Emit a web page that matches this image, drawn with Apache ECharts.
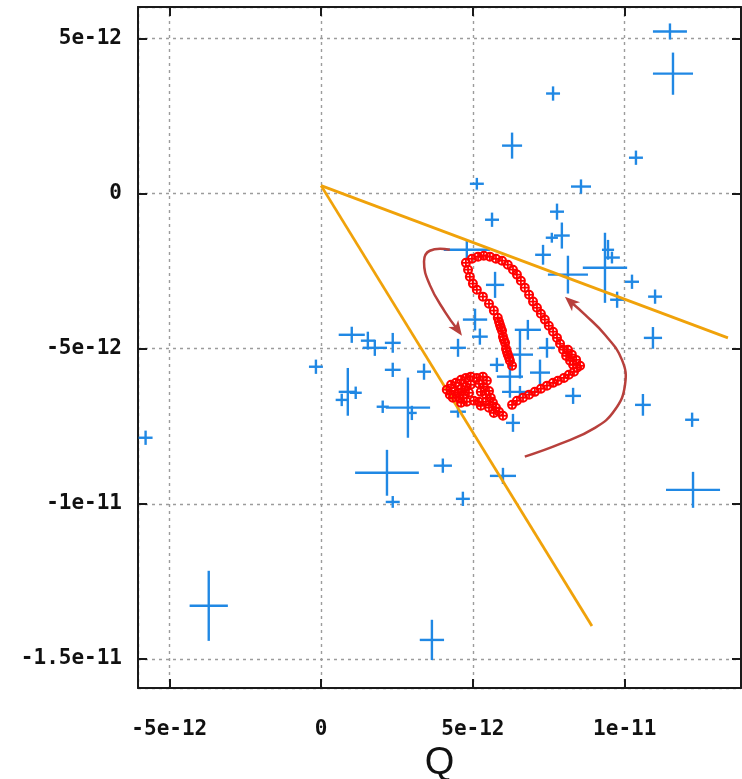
<!DOCTYPE html>
<html><head><meta charset="utf-8">
<script src="https://cdn.jsdelivr.net/npm/echarts@6/dist/echarts.min.js"></script>
<style>html,body{margin:0;padding:0;background:#fff}#c{width:742px;height:779px}</style>
</head><body><div id="c"></div>
<script>
// All values in units of 1e-12
const xTickValues = [-5, 0, 5, 10];
const xTickLabels = ['-5e-12', '0', '5e-12', '1e-11'];
const yTickValues = [-15, -10, -5, 0, 5];
const yTickLabels = ['-1.5e-11', '-1e-11', '-5e-12', '0', '5e-12'];
const xRange = [-6.03, 13.83];
const yRange = [-15.94, 6.02];

// blue measurements: [x, y, xError, yError]
const bluePoints = [
  [11.49, 5.23, 0.56, 0.26], [11.59, 3.87, 0.66, 0.68], [7.64, 3.23, 0.23, 0.23],
  [6.29, 1.55, 0.33, 0.42], [10.37, 1.16, 0.23, 0.23], [5.13, 0.32, 0.23, 0.19],
  [8.56, 0.23, 0.33, 0.23], [5.63, -0.84, 0.23, 0.23], [7.77, -0.58, 0.23, 0.26],
  [7.93, -1.35, 0.26, 0.42], [7.60, -1.42, 0.20, 0.16], [7.31, -1.97, 0.26, 0.32],
  [8.13, -2.61, 0.66, 0.61], [9.35, -2.39, 0.73, 1.13], [9.45, -1.81, 0.20, 0.32],
  [9.58, -2.06, 0.26, 0.19], [9.75, -3.42, 0.23, 0.26], [10.24, -2.84, 0.23, 0.23],
  [11.00, -3.32, 0.23, 0.23], [10.93, -4.65, 0.30, 0.35], [10.60, -6.81, 0.26, 0.35],
  [12.22, -7.29, 0.23, 0.23], [12.25, -9.55, 0.89, 0.58], [4.80, -1.81, 0.76, 0.32],
  [5.73, -2.94, 0.30, 0.42], [5.07, -4.06, 0.40, 0.35], [4.51, -4.97, 0.26, 0.29],
  [6.81, -4.39, 0.43, 0.32], [7.44, -4.97, 0.26, 0.32], [6.22, -5.90, 0.43, 0.68],
  [6.55, -5.19, 0.43, 0.77], [7.21, -5.77, 0.33, 0.42], [8.30, -6.52, 0.26, 0.26],
  [6.32, -7.39, 0.23, 0.29], [5.99, -9.10, 0.43, 0.26], [6.55, -6.39, 0.59, 0.19],
  [-5.78, -7.87, 0.23, 0.23], [-0.17, -5.58, 0.23, 0.23], [1.01, -4.55, 0.43, 0.26],
  [1.54, -4.74, 0.23, 0.29], [1.77, -4.97, 0.40, 0.26], [2.36, -4.81, 0.26, 0.32],
  [2.36, -5.68, 0.26, 0.23], [3.39, -5.74, 0.23, 0.26], [0.88, -6.39, 0.30, 0.77],
  [1.14, -6.42, 0.20, 0.20], [0.68, -6.65, 0.20, 0.20], [2.03, -6.87, 0.20, 0.20],
  [2.86, -6.90, 0.73, 0.97], [2.99, -7.07, 0.16, 0.23], [2.17, -9.00, 1.05, 0.74],
  [2.36, -9.94, 0.23, 0.19], [4.01, -8.77, 0.30, 0.23], [4.67, -9.84, 0.23, 0.23],
  [4.51, -7.03, 0.26, 0.19], [-3.70, -13.29, 0.63, 1.13], [3.65, -14.39, 0.40, 0.65],
  [5.23, -4.61, 0.26, 0.26], [5.79, -5.52, 0.23, 0.23]
];

// red trajectory points: [x, y]
const redPoints = [
  [4.77,-2.23],[4.84,-2.45],[4.90,-2.68],[5.00,-2.90],[4.97,-2.10],[5.17,-2.03],[5.36,-2.00],
  [5.56,-2.03],[5.76,-2.10],[5.96,-2.16],[6.15,-2.29],[6.32,-2.45],
  [6.45,-2.61],[6.58,-2.81],[6.71,-3.03],[6.85,-3.26],[6.98,-3.48],[7.11,-3.68],[7.24,-3.87],
  [7.37,-4.06],[7.50,-4.26],[7.64,-4.45],[7.77,-4.65],[7.87,-4.84],[7.97,-5.03],[8.07,-5.23],
  [8.20,-5.39],[8.30,-5.52],[8.43,-5.61],[8.53,-5.55],[8.40,-5.36],[8.26,-5.19],[8.13,-5.03],
  [8.33,-5.74],[8.16,-5.84],[8.00,-5.94],[7.80,-6.03],[7.64,-6.10],[7.44,-6.19],[7.24,-6.29],
  [7.04,-6.39],[6.85,-6.48],[6.65,-6.58],[6.45,-6.68],[6.29,-6.81],
  [5.13,-3.10],[5.33,-3.32],[5.53,-3.55],[5.69,-3.77],[5.82,-4.00],[5.86,-4.13],[5.89,-4.23],
  [5.92,-4.32],[5.96,-4.42],[5.99,-4.61],[6.02,-4.71],[6.06,-4.81],[6.09,-5.00],[6.12,-5.10],
  [6.15,-5.19],[6.19,-5.29],[6.22,-5.39],[6.29,-5.55],
  [4.14,-6.32],[4.28,-6.16],[4.44,-6.10],[4.61,-6.00],[4.77,-5.94],[4.93,-5.90],[5.13,-5.94],
  [5.33,-5.90],[5.46,-6.03],[4.24,-6.48],[4.41,-6.36],[4.61,-6.29],[4.77,-6.23],[4.93,-6.16],
  [5.20,-6.13],[5.36,-6.23],[5.53,-6.36],[4.34,-6.58],[4.54,-6.58],[4.70,-6.48],[4.87,-6.42],
  [5.26,-6.39],[5.43,-6.48],[5.59,-6.58],[4.61,-6.74],[4.80,-6.71],[5.03,-6.68],[5.20,-6.71],
  [5.43,-6.71],[5.66,-6.74],[5.76,-6.90],[5.53,-6.90],[5.86,-7.03],[5.99,-7.16],[5.69,-7.07],
  [5.26,-6.84],[4.51,-6.42]
];

// orange boundary lines
const orangeLine1 = [[0, 0.26], [13.4, -4.65]];
const orangeLine2 = [[0, 0.26], [8.92, -13.94]];

// curved annotation arrows (path points, last point = arrow tip)
const arrowLeft = [[4.24,-1.81],[3.58,-1.84],[3.39,-2.19],[3.58,-2.94],[4.08,-3.81],[4.64,-4.58]];
const arrowRight = [[6.71,-8.48],[7.87,-8.07],[9.02,-7.55],[9.68,-6.97],[10.01,-6.16],[9.91,-5.36],[9.35,-4.55],[8.69,-3.90],[8.03,-3.32]];

const BLUE = '#2088e4', RED = '#ff0000', ORANGE = '#f0a20a', ARROW = '#b8403c';
const chart = echarts.init(document.getElementById('c'), null, {renderer: 'canvas'});

function fmt(values, labels) {
  return function (v) {
    for (let i = 0; i < values.length; i++) if (Math.abs(values[i] - v) < 1e-6) return labels[i];
    return '';
  };
}

function renderCross(params, api) {
  const x = api.value(0), y = api.value(1), ex = api.value(2), ey = api.value(3);
  const l = api.coord([x - ex, y]), r = api.coord([x + ex, y]);
  const t = api.coord([x, y + ey]), b = api.coord([x, y - ey]);
  const st = {stroke: BLUE, lineWidth: 2.4};
  return {type: 'group', children: [
    {type: 'line', shape: {x1: l[0], y1: l[1], x2: r[0], y2: r[1]}, style: st},
    {type: 'line', shape: {x1: t[0], y1: t[1], x2: b[0], y2: b[1]}, style: st}
  ]};
}

function renderRed(params, api) {
  const p = api.coord([api.value(0), api.value(1)]);
  const r = 4;
  const st = {stroke: RED, lineWidth: 1.8};
  return {type: 'group', children: [
    {type: 'circle', shape: {cx: p[0], cy: p[1], r: r}, style: {stroke: RED, fill: 'rgba(0,0,0,0)', lineWidth: 2}},
    {type: 'line', shape: {x1: p[0] - r, y1: p[1], x2: p[0] + r, y2: p[1]}, style: st},
    {type: 'line', shape: {x1: p[0], y1: p[1] - r, x2: p[0], y2: p[1] + r}, style: st}
  ]};
}

function arrowRenderer(path) {
  return function (params, api) {
    if (params.dataIndex !== 0) return null;
    const pts = path.map(function (d) { return api.coord(d); });
    const n = pts.length;
    const tip = pts[n - 1], prev = pts[n - 2];
    const dx = tip[0] - prev[0], dy = tip[1] - prev[1];
    const len = Math.sqrt(dx * dx + dy * dy);
    const ux = dx / len, uy = dy / len;
    const L = 15, W = 6;
    const bx = tip[0] - ux * L, by = tip[1] - uy * L;
    const linePts = pts.slice(0, n - 1).concat([[tip[0] - ux * 8, tip[1] - uy * 8]]);
    return {type: 'group', children: [
      {type: 'polyline', shape: {points: linePts, smooth: 0.45}, style: {stroke: ARROW, lineWidth: 2.5, fill: null}},
      {type: 'polygon', shape: {points: [tip, [bx - uy * W, by + ux * W], [bx + ux * 4, by + uy * 4], [bx + uy * W, by - ux * W]]}, style: {fill: ARROW}}
    ]};
  };
}

const axisLineStyle = {color: '#1a1a1a', width: 2};
const labelFont = {fontFamily: 'DejaVu Sans Mono', fontWeight: 'bold', fontSize: 21, color: '#111'};

chart.setOption({
  animation: false,
  backgroundColor: '#fff',
  grid: {left: 138, right: 1, top: 7, bottom: 91, containLabel: false, outerBoundsMode: 'none'},
  xAxis: [{
    type: 'value', position: 'bottom', min: xRange[0], max: xRange[1], splitNumber: 4,
    name: 'Q', nameLocation: 'middle', nameGap: 53,
    nameTextStyle: {fontFamily: 'Liberation Sans', fontSize: 38, color: '#111'},
    axisLine: {show: true, onZero: false, lineStyle: axisLineStyle},
    axisTick: {show: true, inside: true, length: 9, lineStyle: axisLineStyle},
    axisLabel: Object.assign({margin: 31, showMinLabel: false, showMaxLabel: false, formatter: fmt(xTickValues, xTickLabels)}, labelFont),
    splitLine: {show: true, lineStyle: {color: '#9c9c9c', width: 1.4, type: [3, 4]}}
  }, {
    type: 'value', position: 'top', min: xRange[0], max: xRange[1], splitNumber: 4,
    axisLine: {show: true, onZero: false, lineStyle: axisLineStyle},
    axisTick: {show: true, inside: true, length: 9, lineStyle: axisLineStyle},
    axisLabel: {show: false}, splitLine: {show: false}
  }],
  yAxis: [{
    type: 'value', position: 'left', min: yRange[0], max: yRange[1], splitNumber: 4,
    axisLine: {show: true, onZero: false, lineStyle: axisLineStyle},
    axisTick: {show: true, inside: true, length: 9, lineStyle: axisLineStyle},
    axisLabel: Object.assign({margin: 16, showMinLabel: false, showMaxLabel: false, formatter: fmt(yTickValues, yTickLabels)}, labelFont),
    splitLine: {show: true, lineStyle: {color: '#9c9c9c', width: 1.4, type: [3, 4]}}
  }, {
    type: 'value', position: 'right', min: yRange[0], max: yRange[1], splitNumber: 4,
    axisLine: {show: true, onZero: false, lineStyle: axisLineStyle},
    axisTick: {show: true, inside: true, length: 9, lineStyle: axisLineStyle},
    axisLabel: {show: false}, splitLine: {show: false}
  }],
  series: [
    {type: 'custom', name: 'measurements', xAxisIndex: 0, yAxisIndex: 0, clip: true,
     dimensions: ['x', 'y', 'ex', 'ey'], encode: {x: 0, y: 1},
     renderItem: renderCross, data: bluePoints, z: 2},
    {type: 'line', xAxisIndex: 0, yAxisIndex: 0, data: orangeLine1, showSymbol: false, symbol: 'none',
     lineStyle: {color: ORANGE, width: 2.8}, z: 3},
    {type: 'line', xAxisIndex: 0, yAxisIndex: 0, data: orangeLine2, showSymbol: false, symbol: 'none',
     lineStyle: {color: ORANGE, width: 2.8}, z: 3},
    {type: 'custom', name: 'trajectory', xAxisIndex: 0, yAxisIndex: 0, clip: true,
     encode: {x: 0, y: 1}, renderItem: renderRed, data: redPoints, z: 4},
    {type: 'custom', xAxisIndex: 0, yAxisIndex: 0, encode: {x: 0, y: 1},
     renderItem: arrowRenderer(arrowLeft), data: arrowLeft, z: 5},
    {type: 'custom', xAxisIndex: 0, yAxisIndex: 0, encode: {x: 0, y: 1},
     renderItem: arrowRenderer(arrowRight), data: arrowRight, z: 5}
  ]
});
</script></body></html>
